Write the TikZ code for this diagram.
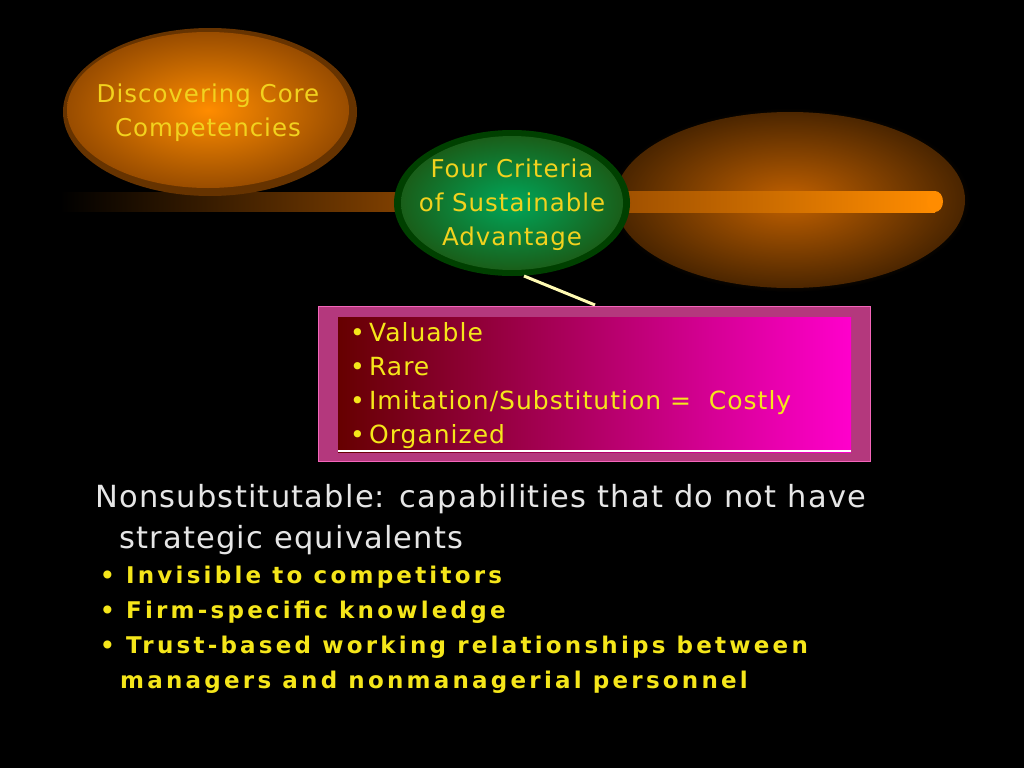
\documentclass[tikz,border=0pt]{standalone}
\usepackage{fontspec}
\setmainfont[LetterSpace=4]{DejaVu Sans}
\newfontfamily\spaced[LetterSpace=14]{DejaVu Sans}
\usetikzlibrary{shadings}
\definecolor{txtY}{HTML}{F2D21E}
\definecolor{bulY}{HTML}{F5E61A}
\definecolor{gry}{HTML}{E6E6E6}
\tikzset{lbl/.style={text=txtY,align=center,font=\fontsize{24.5}{34}\selectfont}}
\begin{document}
\begin{tikzpicture}[x=1pt,y=-1pt]
\fill[black] (0,0) rectangle (1024,768);
\useasboundingbox (0,0) rectangle (1024,768);
% right glow
\shade[inner color=orange!80!black, outer color=black] (790,200) ellipse (180 and 92);
\fill[orange!70!black, opacity=0.4] (790,200) ellipse (175 and 88);
% bar
\shade[left color=black, right color=orange!50!black] (60,192) rectangle (400,211);
\shade[left color=orange!60!black, right color=orange!90!yellow] (600,191) rectangle (935,212);
\fill[orange!90!yellow] (935,201.5) ellipse (8 and 10.5);
% orange ellipse
\fill[orange!40!black] (210,112) ellipse (147 and 84);
\shade[inner color=orange!90!yellow, outer color=orange!60!black] (208,110) ellipse (141 and 78);
\node[lbl] (core) at (208,113) {Discovering Core\\Competencies};
% green ellipse
\fill[green!25!black] (512,203) ellipse (118 and 73);
\shade[inner color=teal!70!green, outer color=green!30!black!90] (512,203) ellipse (111 and 67);
\node[lbl] (four) at (512,205) {Four Criteria\\of Sustainable\\Advantage};
% connector
\coordinate (c1) at (524,276);
\coordinate (box) at (595,305);
\draw[line width=3pt, color=yellow!30!white] (c1) -- (box);
% box
\node[draw=magenta!60!white, fill=magenta!70!black, minimum width=552, minimum height=155, anchor=north west, inner sep=0] (frame) at (318,306) {};
\shade[left color=red!40!black, right color=magenta!80!red] (338,317) rectangle (851,452);
\draw[white, line width=1.2pt] (338,451) -- (851,451);
\node[anchor=north west, text=bulY, align=left, inner sep=0, font=\fontsize{25}{34}\selectfont] (list) at (350,322) {%
\textbullet\,Valuable\\
\textbullet\,Rare\\
\textbullet\,Imitation/Substitution =\ \ Costly\\
\textbullet\,Organized};
% bottom text
\node[anchor=north west, text=gry, align=left, inner sep=0, font=\fontsize{30.5}{41}\selectfont] (nons) at (95,484) {Nonsubstitutable: capabilities that do not have\\\hspace*{24pt}strategic equivalents};
\node[anchor=north west, text=bulY, align=left, inner sep=0, font=\spaced\bfseries\fontsize{23}{35}\selectfont] (bul) at (100,566) {%
\textbullet\ Invisible to competitors\\
\textbullet\ Firm-specific knowledge\\
\textbullet\ Trust-based working relationships between\\
\hspace*{20pt}managers and nonmanagerial personnel};
\end{tikzpicture}
\end{document}
